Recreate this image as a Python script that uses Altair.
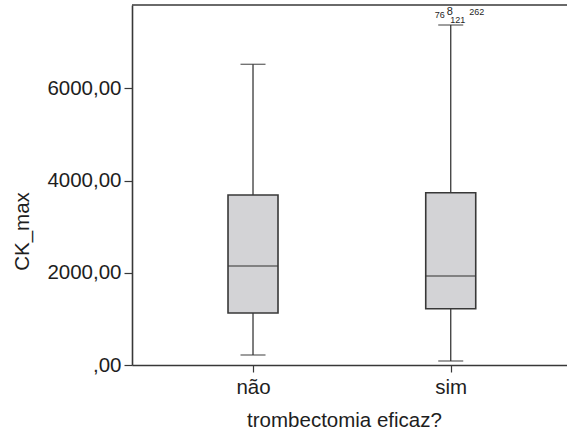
import altair as alt
import pandas as pd

# ---- data ----
categories = ["não", "sim"]
lower = [217, 87]
q1 = [1128, 1221]
median = [2148, 1931]
q3 = [3688, 3738]
upper = [6523, 7376]

outlier_labels = ["76", "8", "121", "262"]
outlier_group = ["sim", "sim", "sim", "sim"]
outlier_y = [7528, 7593, 7419, 7593]

y_ticks = [0, 2000, 4000, 6000]
y_max = 7810

box = pd.DataFrame({"cat": categories, "lower": lower, "q1": q1,
                    "median": median, "q3": q3, "upper": upper})
labels = pd.DataFrame({"cat": outlier_group, "lab": outlier_labels, "y": outlier_y})

FONT = "Liberation Sans"
FS = 20.5
TXT = "#1e1e1e"
LINE = "#383838"

xscale = alt.Scale(type="point", domain=categories, padding=0.6, align=0.51)
yscale = alt.Scale(domain=[0, y_max], nice=False, zero=True)

xaxis = alt.Axis(title="trombectomia eficaz?", labelAngle=0, tickSize=7,
                 labelPadding=5, domainColor=LINE, domainWidth=1.6,
                 tickColor=LINE, tickWidth=1.2, labelFont=FONT, labelFontSize=FS,
                 labelColor=TXT, titleFont=FONT, titleFontSize=FS,
                 titleFontWeight="normal", titleColor=TXT, titleX=212, titleY=61,
                 titleBaseline="alphabetic", titleAlign="center")
yaxis = alt.Axis(title="CK_max", values=y_ticks, grid=False, tickSize=8,
                 labelPadding=3,
                 labelExpr="datum.value == 0 ? ',00' : datum.value + ',00'",
                 domainColor=LINE, domainWidth=1.6, tickColor=LINE, tickWidth=1.2,
                 labelFont=FONT, labelFontSize=FS, labelColor=TXT,
                 titleFont=FONT, titleFontSize=FS, titleFontWeight="normal",
                 titleColor=TXT, titleX=-104, titleY=226,
                 titleBaseline="alphabetic", titleAlign="center")

X = alt.X("cat:N", scale=xscale, axis=xaxis, sort=categories)

base = alt.Chart(box)

whisker = base.mark_rule(color=LINE, strokeWidth=1.3).encode(
    x=X, y=alt.Y("lower:Q", scale=yscale, axis=yaxis), y2="upper:Q")
boxes = base.mark_bar(size=50, fill="#d3d3d6", stroke=LINE, strokeWidth=1.6).encode(
    x=X, y=alt.Y("q1:Q", scale=yscale), y2="q3:Q")
med = base.mark_tick(size=50, thickness=1.6, color=LINE).encode(
    x=X, y=alt.Y("median:Q", scale=yscale))
cap_lo = base.mark_tick(size=25, thickness=1.4, color=LINE).encode(
    x=X, y=alt.Y("lower:Q", scale=yscale))
cap_hi = base.mark_tick(size=25, thickness=1.4, color=LINE).encode(
    x=X, y=alt.Y("upper:Q", scale=yscale))

label_dx = {"76": -11, "8": -1, "121": 7, "262": 26}
label_fs = {"76": 9, "8": 11, "121": 9, "262": 9}
texts = []
for lab in outlier_labels:
    texts.append(
        alt.Chart(labels).transform_filter(alt.datum.lab == lab)
        .mark_text(font=FONT, fontSize=label_fs[lab], color=TXT, dx=label_dx[lab],
                   align="center", baseline="alphabetic")
        .encode(x=X, y=alt.Y("y:Q", scale=yscale), text="lab:N")
    )

top = alt.Chart(pd.DataFrame({"a": [0]})).mark_rule(color=LINE, strokeWidth=1.6).encode(
    x=alt.value(0), x2=alt.value(435), y=alt.value(0))

chart = alt.layer(whisker, boxes, med, cap_lo, cap_hi, *texts, top).properties(
    width=435, height=360,
    padding={"left": 132, "top": 5, "right": 0, "bottom": 66},
    autosize="none",
    background="white",
).configure_view(stroke=None)

chart.save("out.html", embed_options={"renderer": "svg", "actions": False})
